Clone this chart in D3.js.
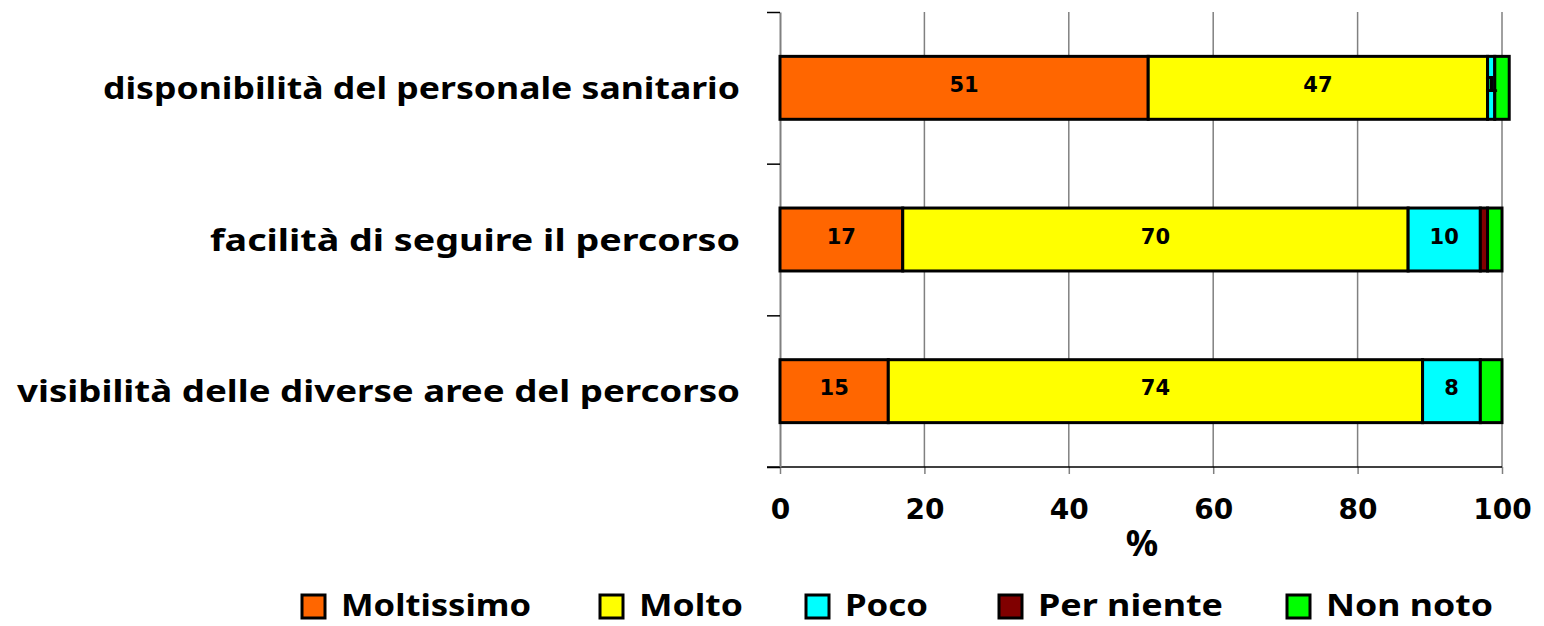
<!DOCTYPE html>
<html>
<head>
<meta charset="utf-8">
<script src="https://cdn.jsdelivr.net/npm/d3@7"></script>
<style>
  body { margin: 0; background: #fff; }
  svg { display: block; }
</style>
</head>
<body>
<svg id="chart" width="1544" height="626"></svg>
<script>
// categories, top to bottom
var categories = [
    "disponibilità del personale sanitario",
    "facilità di seguire il percorso",
    "visibilità delle diverse aree del percorso"
];
var seriesNames = ["Moltissimo", "Molto", "Poco", "Per niente", "Non noto"];
var seriesColors = ["#ff6600", "#ffff00", "#00ffff", "#800000", "#00ff00"];

// percent values per category
var moltissimo = [51, 17, 15];
var molto = [47, 70, 74];
var poco = [1, 10, 8];
var perNiente = [0, 1, 0];
var nonNoto = [2, 2, 3];

var xTicks = [0, 20, 40, 60, 80, 100];
var xTitle = "%";

var labelFont = "'Noto Sans', 'DejaVu Sans', sans-serif";
var numFont = "'DejaVu Sans', sans-serif";

// table for d3.stack
var table = categories.map(function (c, i) {
    return {
        cat: c,
        "Moltissimo": moltissimo[i],
        "Molto": molto[i],
        "Poco": poco[i],
        "Per niente": perNiente[i],
        "Non noto": nonNoto[i]
    };
});

var svg = d3.select("#chart");

var plot = { left: 780, right: 1502, top: 12, bottom: 467 };

var x = d3.scaleLinear()
    .domain([0, 100])
    .range([plot.left, plot.right]);

var y = d3.scaleBand()
    .domain(categories)
    .range([plot.top, plot.bottom])
    .paddingInner(0.585)
    .paddingOuter(0.2925);

var yEdge = d3.scaleLinear()
    .domain([0, categories.length])
    .range([plot.top, plot.bottom]);

var color = d3.scaleOrdinal()
    .domain(seriesNames)
    .range(seriesColors);

// gridlines
svg.append("g")
    .selectAll("line")
    .data(xTicks.slice(1))
    .enter()
    .append("line")
    .attr("x1", function (d) { return x(d); })
    .attr("x2", function (d) { return x(d); })
    .attr("y1", plot.top)
    .attr("y2", plot.bottom)
    .attr("stroke", "#808080")
    .attr("stroke-width", 1.5);

// x axis
var xAxis = svg.append("g")
    .attr("transform", "translate(0," + plot.bottom + ")")
    .call(d3.axisBottom(x).tickValues(xTicks).tickSize(7).tickSizeOuter(0).tickFormat(d3.format("d")));
xAxis.select(".domain").remove();
xAxis.selectAll(".tick line").attr("stroke", "#808080").attr("stroke-width", 1.5);
xAxis.selectAll("text")
    .attr("y", 52)
    .attr("dy", 0)
    .style("font-family", numFont)
    .style("font-weight", "bold")
    .style("font-size", "28px")
    .attr("fill", "#000");

svg.append("line")
    .attr("x1", plot.left - 13)
    .attr("x2", plot.right)
    .attr("y1", plot.bottom)
    .attr("y2", plot.bottom)
    .attr("stroke", "#000")
    .attr("stroke-width", 1.5);

// y axis (category boundaries)
var yAxis = svg.append("g")
    .attr("transform", "translate(" + plot.left + ",0)")
    .call(d3.axisLeft(yEdge).ticks(categories.length).tickSize(13).tickSizeOuter(0).tickFormat(""));
yAxis.select(".domain").attr("stroke", "#808080").attr("stroke-width", 2);
yAxis.selectAll(".tick line").attr("stroke", "#000").attr("stroke-width", 1.5);

// stacked bars
var stacked = d3.stack().keys(seriesNames)(table);

var layers = svg.append("g")
    .selectAll("g")
    .data(stacked)
    .enter()
    .append("g")
    .attr("fill", function (d) { return color(d.key); });

layers.selectAll("rect")
    .data(function (d) { return d; })
    .enter()
    .filter(function (d) { return d[1] - d[0] > 0; })
    .append("rect")
    .attr("x", function (d) { return x(d[0]); })
    .attr("width", function (d) { return x(d[1]) - x(d[0]); })
    .attr("y", function (d) { return y(d.data.cat); })
    .attr("height", y.bandwidth())
    .attr("stroke", "#000")
    .attr("stroke-width", 3);

// value labels for first three series
var labelled = stacked.filter(function (s) { return ["Moltissimo", "Molto", "Poco"].indexOf(s.key) >= 0; });
labelled.forEach(function (s) {
    svg.append("g")
        .selectAll("text")
        .data(s.filter(function (d) { return d[1] - d[0] > 0; }))
        .enter()
        .append("text")
        .attr("x", function (d) { return x((d[0] + d[1]) / 2); })
        .attr("y", function (d) { return y(d.data.cat) + y.bandwidth() / 2 + 4; })
        .attr("text-anchor", "middle")
        .style("font-family", numFont)
        .style("font-weight", "bold")
        .style("font-size", "21px")
        .text(function (d) { return d[1] - d[0]; });
});

// category labels
var catWidths = [637, 530, 723];
svg.append("g")
    .selectAll("text")
    .data(categories)
    .enter()
    .append("text")
    .attr("x", 740)
    .attr("y", function (d) { return y(d) + y.bandwidth() / 2 + 11; })
    .attr("text-anchor", "end")
    .attr("textLength", function (d, i) { return catWidths[i]; })
    .attr("lengthAdjust", "spacingAndGlyphs")
    .style("font-family", labelFont)
    .style("font-weight", "bold")
    .style("font-size", "31px")
    .text(function (d) { return d; });

// axis title
svg.append("text")
    .attr("x", 1142)
    .attr("y", 556)
    .attr("text-anchor", "middle")
    .style("font-family", labelFont)
    .style("font-weight", "bold")
    .style("font-size", "36px")
    .text(xTitle);

// legend
var legendX = [302, 600, 806, 999, 1287];
var legendW = [190, 104, 83, 185, 167];
var legend = svg.append("g")
    .selectAll("g")
    .data(seriesNames)
    .enter()
    .append("g")
    .attr("transform", function (d, i) { return "translate(" + legendX[i] + ",595)"; });

legend.append("rect")
    .attr("width", 23)
    .attr("height", 23)
    .attr("fill", function (d) { return color(d); })
    .attr("stroke", "#000")
    .attr("stroke-width", 3);

legend.append("text")
    .attr("x", 39)
    .attr("y", 21)
    .attr("textLength", function (d, i) { return legendW[i]; })
    .attr("lengthAdjust", "spacingAndGlyphs")
    .style("font-family", labelFont)
    .style("font-weight", "bold")
    .style("font-size", "31px")
    .text(function (d) { return d; });
</script>
</body>
</html>
